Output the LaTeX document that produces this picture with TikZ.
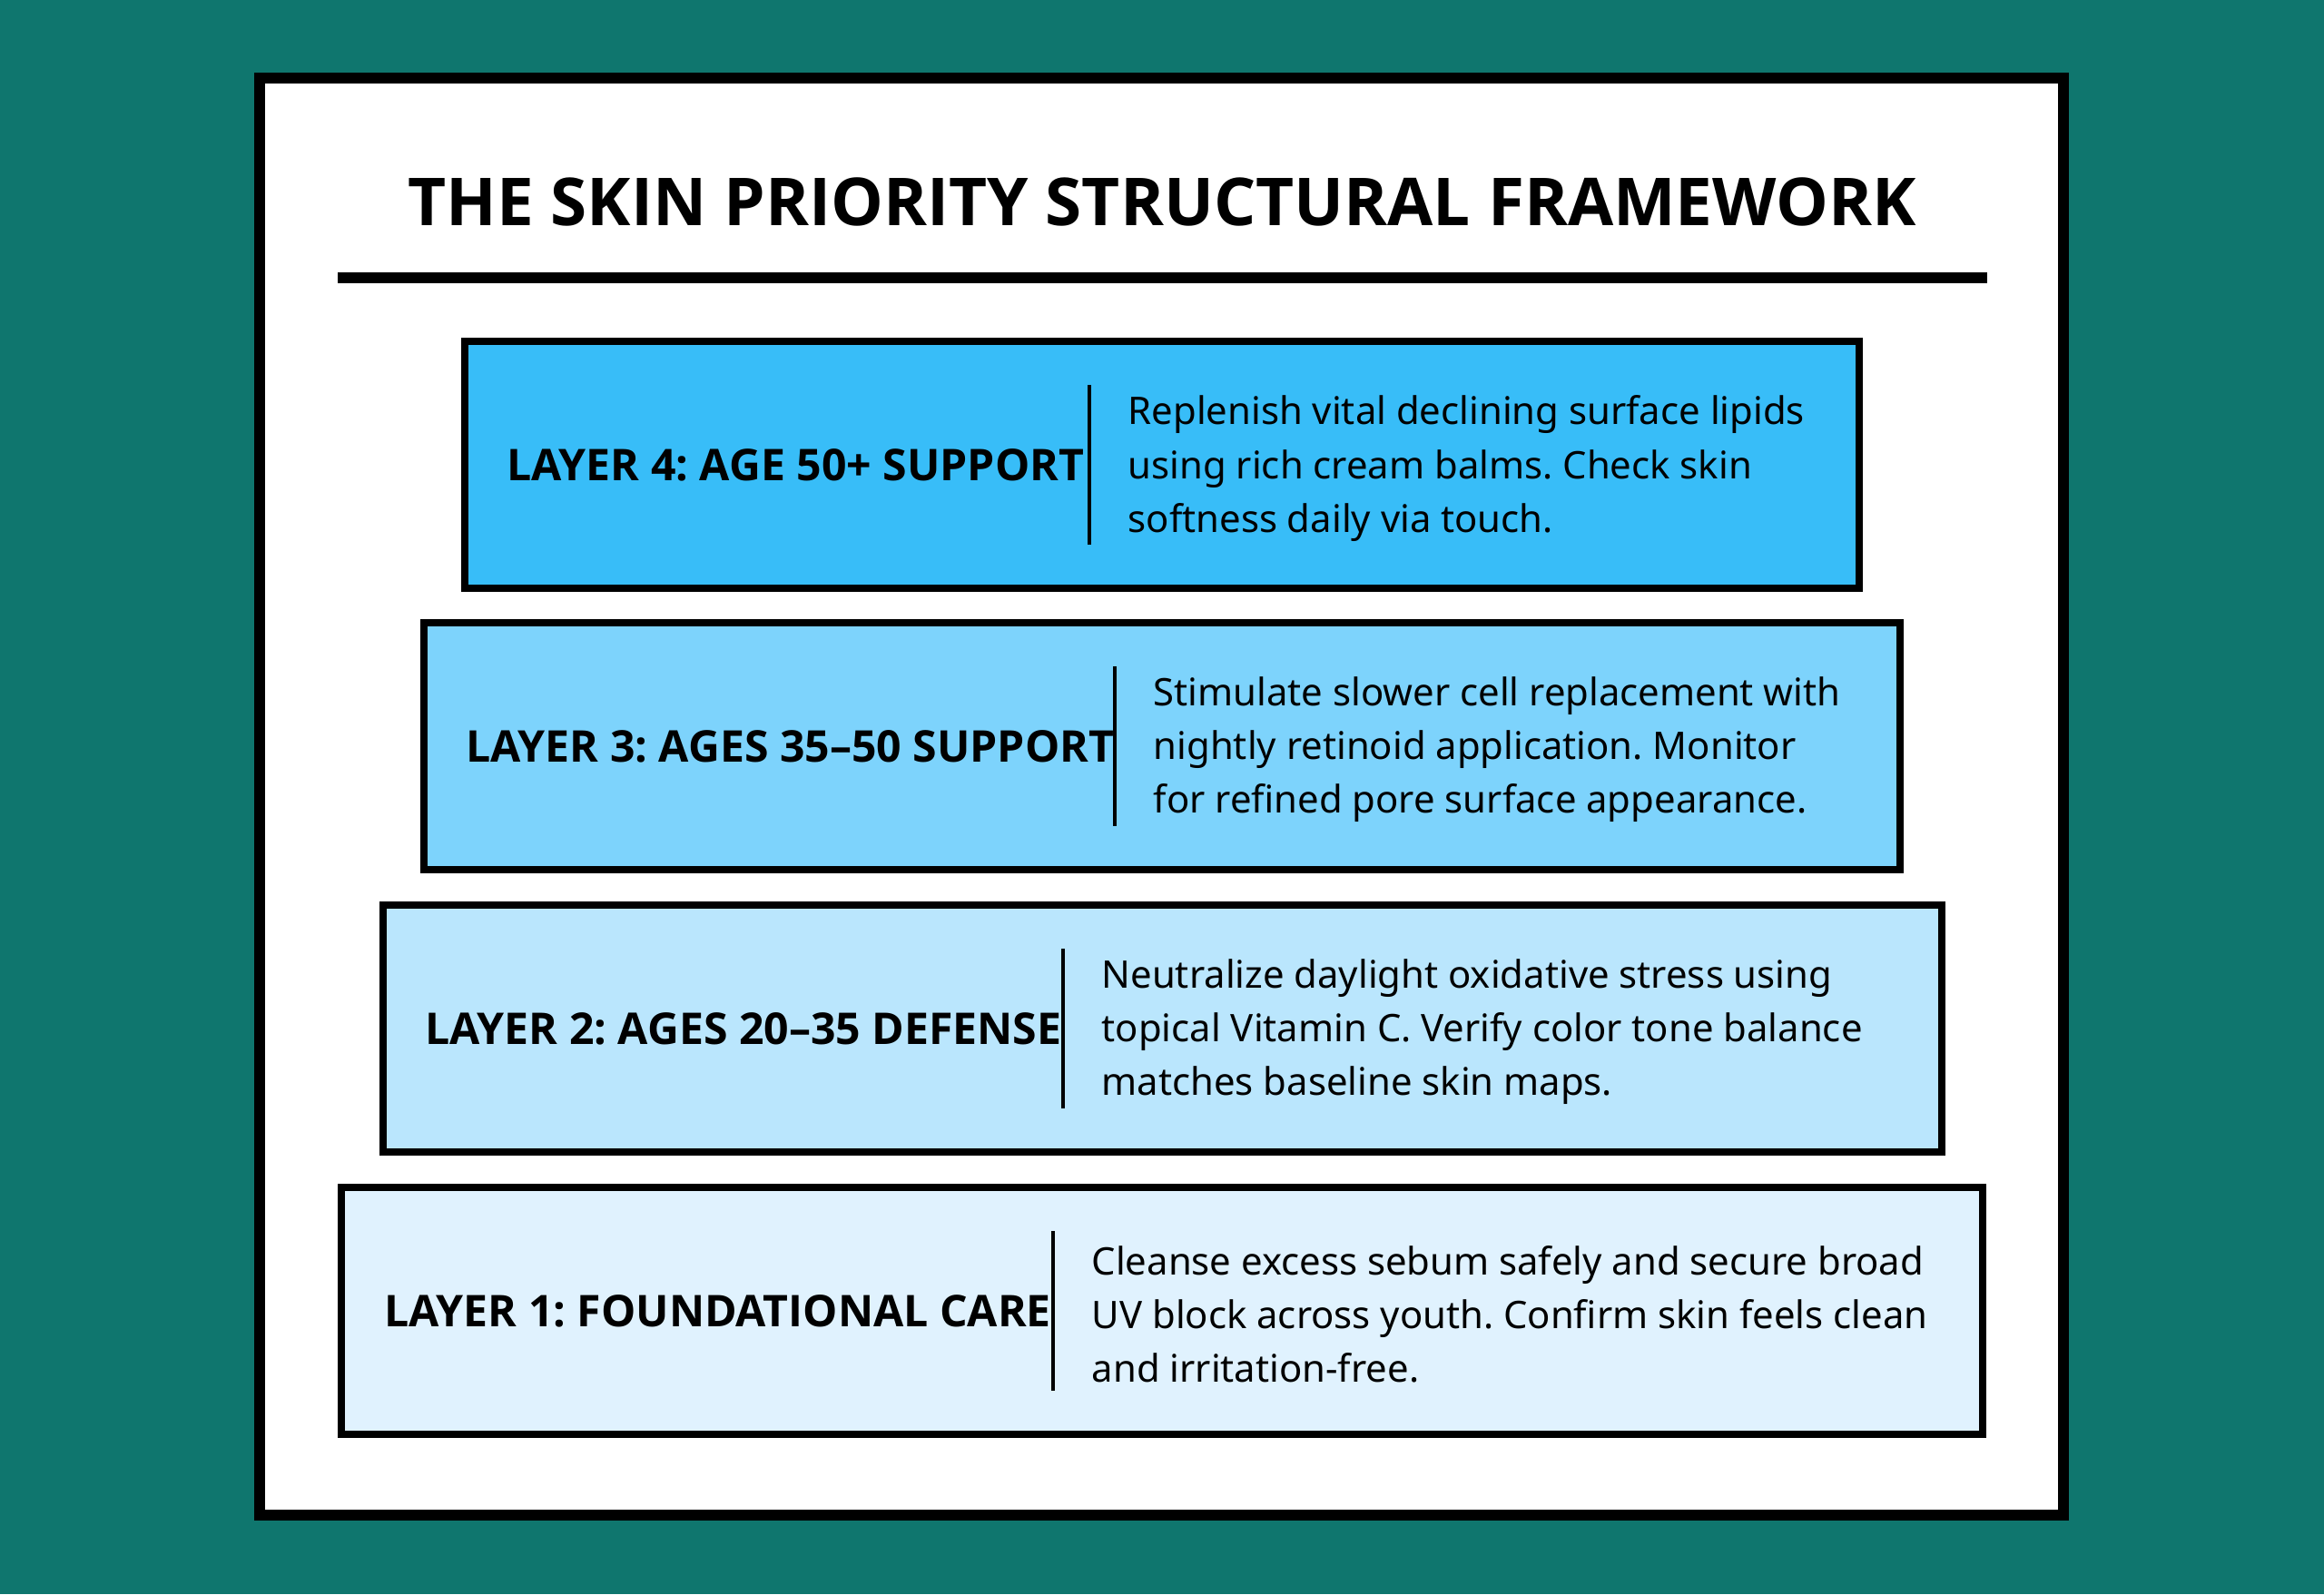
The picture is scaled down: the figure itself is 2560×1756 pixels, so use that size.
\documentclass[tikz,border=0pt]{standalone}
\usepackage{fontspec}
\setmainfont{Noto Sans}
\newfontfamily\headfont{Open Sans}
\usepackage{xcolor}
\usepackage{tikz}
\usetikzlibrary{positioning,calc}
\frenchspacing
\definecolor{pagebg}{RGB}{15,118,110}
\definecolor{frameborder}{RGB}{0,0,0}
\definecolor{layerfour}{RGB}{56,189,248}
\definecolor{layerthree}{RGB}{125,211,252}
\definecolor{layertwo}{RGB}{186,230,253}
\definecolor{layerone}{RGB}{224,242,254}

\begin{document}
\begin{tikzpicture}[
                x=0.01cm, y=-0.01cm,
                titletext/.style={font=\headfont\fontsize{20.7}{24}\selectfont\bfseries, inner sep=0pt, anchor=base},
                layerbox/.style={rectangle, draw=frameborder, line width=0.8mm, minimum height=2.72cm, inner sep=0pt},
                layerlabel/.style={font=\headfont\fontsize{13.7}{16}\selectfont\bfseries, inner sep=0pt, anchor=west},
                divider/.style={rectangle, fill=black, minimum width=0.45mm, minimum height=1.75cm, inner sep=0pt},
                layerdesc/.style={font=\fontsize{11.9}{16.8}\selectfont, align=left, inner sep=0pt, yshift=-0.04cm}
                ]
                % page and outer frame
                \fill[pagebg] (0,0) rectangle (2560,1756);
                \draw[frameborder, line width=1.2mm, fill=white] (286,86) rectangle (2273,1669);

                \node[titletext] (title) at (1280,248) {THE SKIN PRIORITY STRUCTURAL FRAMEWORK};
                \coordinate (ruleL) at (372,306);
                \coordinate (ruleR) at (2189,306);
                \draw[line width=1.2mm] (ruleL) -- (ruleR);

                % layer 4
                \node[layerbox, fill=layerfour, minimum width=15.36cm] (layer4) at (1280,512) {};
                \node[layerlabel] (lab4) at ($(layer4.west)+(50,0)$) {LAYER 4: AGE 50+ SUPPORT};
                \node[divider] (div4) at (1200,512) {};
                \node[layerdesc, right=0.39cm of div4] (desc4) {Replenish vital declining surface lipids\\using rich cream balms. Check skin\\softness daily via touch.};

                % layer 3
                \node[layerbox, fill=layerthree, minimum width=16.26cm] (layer3) at (1280,822) {};
                \node[layerlabel] (lab3) at ($(layer3.west)+(50,0)$) {LAYER 3: AGES 35–50 SUPPORT};
                \node[divider] (div3) at (1228,822) {};
                \node[layerdesc, right=0.39cm of div3] (desc3) {Stimulate slower cell replacement with\\nightly retinoid application. Monitor\\for refined pore surface appearance.};

                % layer 2
                \node[layerbox, fill=layertwo, minimum width=17.16cm] (layer2) at (1280,1133) {};
                \node[layerlabel] (lab2) at ($(layer2.west)+(50,0)$) {LAYER 2: AGES 20–35 DEFENSE};
                \node[divider] (div2) at (1171,1133) {};
                \node[layerdesc, right=0.39cm of div2] (desc2) {Neutralize daylight oxidative stress using\\topical Vitamin C. Verify color tone balance\\matches baseline skin maps.};

                % layer 1
                \node[layerbox, fill=layerone, minimum width=18.06cm] (layer1) at (1280,1444) {};
                \node[layerlabel] (lab1) at ($(layer1.west)+(50,0)$) {LAYER 1: FOUNDATIONAL CARE};
                \node[divider] (div1) at (1160,1444) {};
                \node[layerdesc, right=0.39cm of div1] (desc1) {Cleanse excess sebum safely and secure broad\\UV block across youth. Confirm skin feels clean\\and irritation-free.};
            \end{tikzpicture}
\end{document}
